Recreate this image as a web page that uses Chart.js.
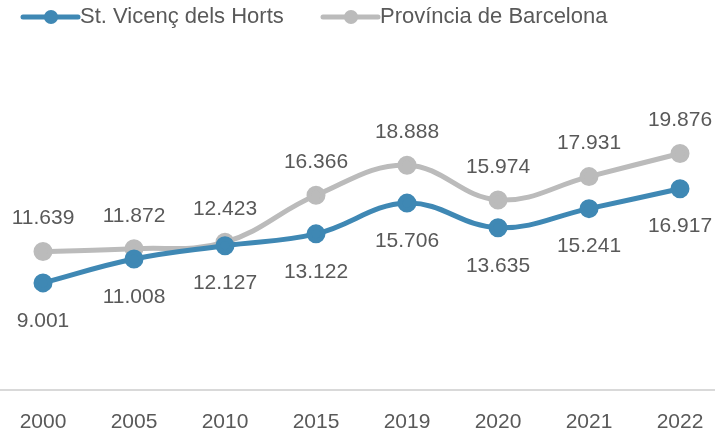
<!DOCTYPE html>
<html>
<head>
<meta charset="utf-8">
<script src="https://cdn.jsdelivr.net/npm/chart.js@4/dist/chart.umd.min.js"></script>
<style>
  html, body { margin: 0; padding: 0; background: #fff; }
  #wrap { width: 715px; height: 434px; }
</style>
</head>
<body>
<div id="wrap"><canvas id="grafic"></canvas></div>
<script>
const anys = ["2000", "2005", "2010", "2015", "2019", "2020", "2021", "2022"];
const santVicenc = [9001, 11008, 12127, 13122, 15706, 13635, 15241, 16917];
const barcelona = [11639, 11872, 12423, 16366, 18888, 15974, 17931, 19876];

const FONT = "'Liberation Sans', Arial, sans-serif";
const TEXT = "#595959";
const BLAU = "#3F88B4";
const GRIS = "#BBBBBB";

// punt com a separador de milers
function formatNum(v) {
  return String(v).replace(/\B(?=(\d{3})+(?!\d))/g, ".");
}

// etiquetes de valor: Sant Vicenç a sota, província a sobre
const etiquetes = {
  id: "etiquetes",
  afterDatasetsDraw(chart) {
    const ctx = chart.ctx;
    ctx.save();
    ctx.font = "21px " + FONT;
    ctx.fillStyle = TEXT;
    ctx.textAlign = "center";
    ctx.textBaseline = "middle";
    chart.data.datasets.forEach((ds, i) => {
      const meta = chart.getDatasetMeta(i);
      meta.data.forEach((pt, j) => {
        const dy = ds.posEtiqueta === "sota" ? 38 : -33;
        ctx.fillText(formatNum(ds.data[j]), pt.x, pt.y + dy);
      });
    });
    ctx.restore();
  }
};

// eix horitzontal d'un extrem a l'altre i anys a sota
const eixX = {
  id: "eixX",
  beforeDatasetsDraw(chart) {
    const ctx = chart.ctx;
    const x = chart.scales.x;
    const y = chart.chartArea.bottom;
    ctx.save();
    ctx.strokeStyle = "#D9D9D9";
    ctx.lineWidth = 2;
    ctx.beginPath();
    ctx.moveTo(0, y);
    ctx.lineTo(chart.width, y);
    ctx.stroke();
    ctx.font = "21px " + FONT;
    ctx.fillStyle = TEXT;
    ctx.textAlign = "center";
    ctx.textBaseline = "middle";
    chart.data.labels.forEach((lab, i) => {
      ctx.fillText(lab, x.getPixelForTick(i), y + 32);
    });
    ctx.restore();
  }
};

// llegenda amb línia i marcador
const llegenda = {
  id: "llegenda",
  afterDraw(chart) {
    const ctx = chart.ctx;
    const posX = [23, 323];
    const y = 17;
    ctx.save();
    ctx.font = "22px " + FONT;
    ctx.textBaseline = "middle";
    chart.data.datasets.forEach((ds, i) => {
      const x = posX[i];
      ctx.strokeStyle = ds.borderColor;
      ctx.lineWidth = 5;
      ctx.lineCap = "round";
      ctx.beginPath();
      ctx.moveTo(x, y);
      ctx.lineTo(x + 55, y);
      ctx.stroke();
      ctx.fillStyle = ds.borderColor;
      ctx.beginPath();
      ctx.arc(x + 28, y, 7, 0, Math.PI * 2);
      ctx.fill();
      ctx.fillStyle = TEXT;
      ctx.fillText(ds.label, x + 57, y);
    });
    ctx.restore();
  }
};

const ctx = document.getElementById("grafic").getContext("2d");
new Chart(ctx, {
  type: "line",
  data: {
    labels: anys,
    datasets: [
      {
        label: "St. Vicenç dels Horts",
        data: santVicenc,
        borderColor: BLAU,
        backgroundColor: BLAU,
        borderWidth: 5,
        pointRadius: 7,
        pointHoverRadius: 7,
        tension: 0.4,
        posEtiqueta: "sota"
      },
      {
        label: "Província de Barcelona",
        data: barcelona,
        borderColor: GRIS,
        backgroundColor: GRIS,
        borderWidth: 5,
        pointRadius: 7,
        pointHoverRadius: 7,
        tension: 0.4,
        posEtiqueta: "sobre"
      }
    ]
  },
  options: {
    responsive: true,
    maintainAspectRatio: false,
    animation: false,
    layout: { padding: { top: 33, left: 43, right: 35, bottom: 0 } },
    plugins: {
      legend: { display: false },
      tooltip: { enabled: false }
    },
    scales: {
      x: {
        grid: { display: false, drawTicks: false },
        border: { display: false },
        ticks: { display: false },
        afterFit(scale) { scale.height = 44; }
      },
      y: {
        display: false,
        min: 0,
        max: 30000
      }
    }
  },
  plugins: [eixX, etiquetes, llegenda]
});
</script>
</body>
</html>
